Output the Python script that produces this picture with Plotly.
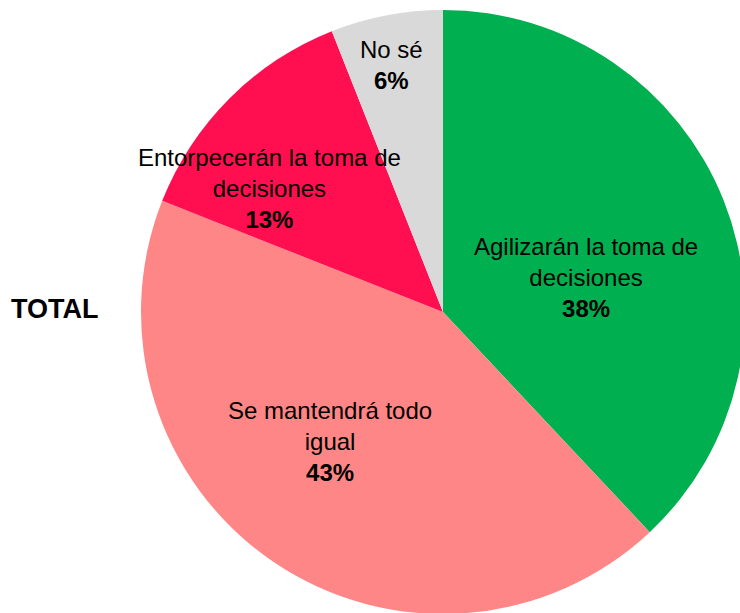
import math
import plotly.graph_objects as go

labels = ["Agilizarán la toma de<br>decisiones", "Se mantendrá todo<br>igual",
          "Entorpecerán la toma de<br>decisiones", "No sé"]
values = [38, 43, 13, 6]
colors = ["#00B050", "#FF8686", "#FF0F50", "#D9D9D9"]
group_label = "TOTAL"

# label placement: (radius fraction, angle nudge in degrees) per slice
label_pos = [(0.487, 8.2), (0.568, 7), (0.705, -9.4), (0.835, -0.9)]

# figure is a bit larger than the window so the pie can run off the edges
W, H = 760, 630
cx, cy, R = 443, 312, 302
FONT = "Liberation Sans, Arial, sans-serif"

fig = go.Figure()
fig.add_trace(go.Pie(
    labels=labels, values=values, sort=False, direction="clockwise",
    rotation=0, marker=dict(colors=colors, line=dict(width=0)),
    textinfo="none", hoverinfo="label+percent", showlegend=False,
    domain=dict(x=[(cx - R) / W, (cx + R) / W],
                y=[(H - cy - R) / H, (H - cy + R) / H]),
))

total = sum(values)
cum = 0
for lab, v, (rf, nudge) in zip(labels, values, label_pos):
    mid = (cum + v / 2) / total * 360 + nudge
    cum += v
    px = cx + rf * R * math.sin(math.radians(mid))
    py = cy - rf * R * math.cos(math.radians(mid))
    fig.add_annotation(
        x=px / W, y=1 - py / H, xref="paper", yref="paper",
        text=f"{lab}<br><b>{round(v / total * 100)}%</b>",
        showarrow=False, xanchor="center", yanchor="middle",
        font=dict(family=FONT, size=24, color="black"),
    )

fig.add_annotation(x=55 / W, y=1 - 309 / H, xref="paper", yref="paper",
                   text=f"<b>{group_label}</b>", showarrow=False,
                   xanchor="center", yanchor="middle",
                   font=dict(family=FONT, size=27, color="black"))

fig.update_layout(width=W, height=H, margin=dict(l=0, r=0, t=0, b=0),
                  paper_bgcolor="white", plot_bgcolor="white")
fig.write_html("out.html", config={"displayModeBar": False},
               post_script="document.body.style.margin='0';"
                           "document.body.style.overflow='hidden';"
                           "document.documentElement.style.overflow='hidden';")
